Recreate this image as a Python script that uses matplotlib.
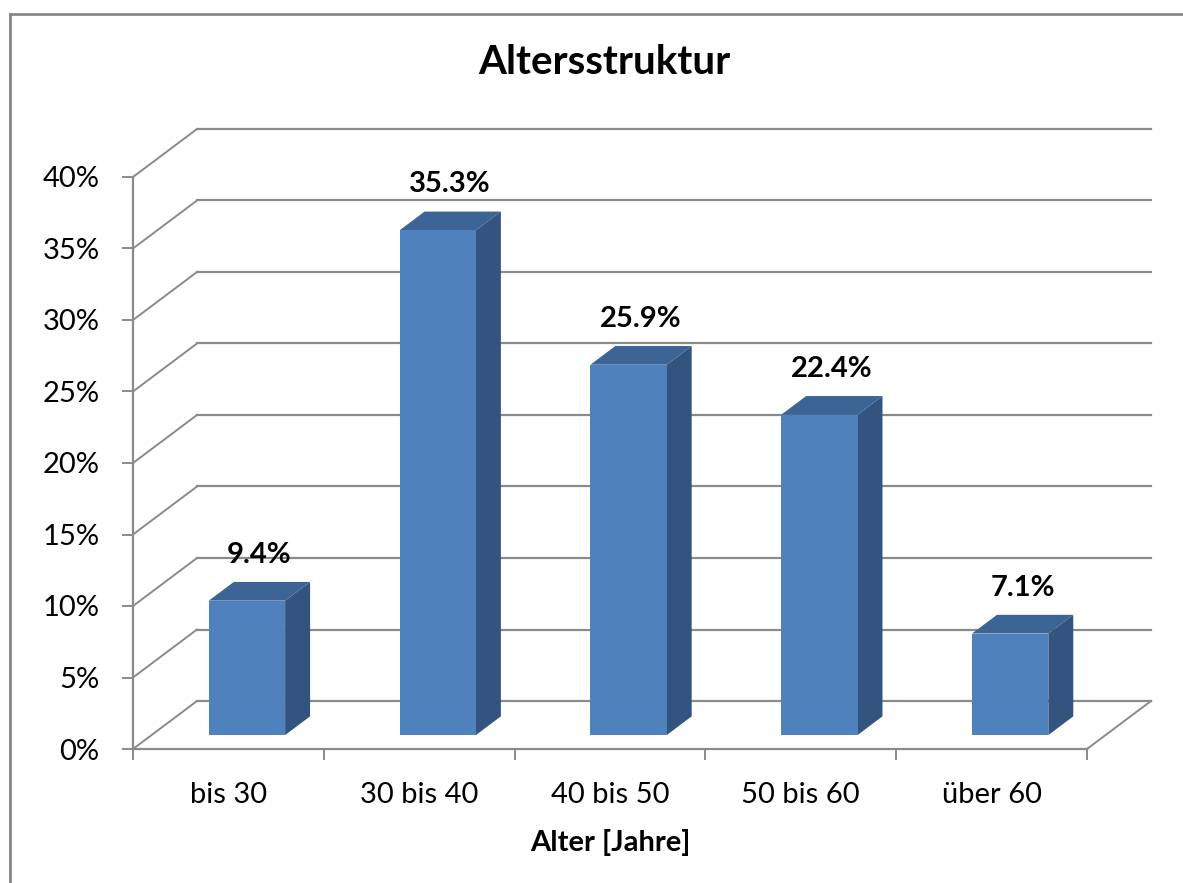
import matplotlib
matplotlib.use('Agg')
import matplotlib.pyplot as plt
from matplotlib.patches import Polygon
from matplotlib.lines import Line2D

# Daten
kategorien = ['bis 30', '30 bis 40', '40 bis 50', '50 bis 60', 'über 60']
anteile = [9.4, 35.3, 25.9, 22.4, 7.1]
y_ticks = [0, 5, 10, 15, 20, 25, 30, 35, 40]
y_labels = ['0%', '5%', '10%', '15%', '20%', '25%', '30%', '35%', '40%']
titel = 'Altersstruktur'
x_titel = 'Alter [Jahre]'

plt.rcParams['font.family'] = ['Lato', 'DejaVu Sans']

W, H = 1183, 883
fig = plt.figure(figsize=(W / 100, H / 100), dpi=100)

# Vorderebene der Achsen (Pixel)
left, right, top, bottom = 133, 1087, 177, 749
ax = fig.add_axes([left / W, 1 - bottom / H, (right - left) / W, (bottom - top) / H])
ax.set_xlim(0, len(kategorien))
ax.set_ylim(0, 40)
ax.patch.set_visible(False)

# Tiefe (Pixel) in Dateneinheiten umrechnen
DEPTH_PX = (64, 48)
DX = DEPTH_PX[0] / ((right - left) / len(kategorien))
DY = DEPTH_PX[1] / ((bottom - top) / 40)


def pt(x, y, f):
    return (x + f * DX, y + f * DY)


grid_col = '#8a8a8a'
n = len(kategorien)

# Rückwand-Gitterlinien und Seitenwand-Diagonalen
for yv in y_ticks:
    x0, y0 = pt(0, yv, 1)
    x1, y1 = pt(n, yv, 1)
    ax.add_line(Line2D([x0, x1], [y0, y1], color=grid_col, lw=1.6, clip_on=False, zorder=1))
    xa, ya = pt(0, yv, 0)
    ax.add_line(Line2D([xa, x0], [ya, y0], color=grid_col, lw=1.4, clip_on=False, zorder=1))

# Boden rechte Diagonale
xa, ya = pt(n, 0, 0)
xb, yb = pt(n, 0, 1)
ax.add_line(Line2D([xa, xb], [ya, yb], color=grid_col, lw=1.4, clip_on=False, zorder=1))

# Balken
f1, f2 = 0.29, 0.68
bw0, bw1 = 0.3, 0.7
c_front, c_top, c_side = '#4f81bd', '#3c6494', '#32547e'
for i, v in enumerate(anteile):
    xl, xr = i + bw0, i + bw1
    front = [pt(xl, 0, f1), pt(xr, 0, f1), pt(xr, v, f1), pt(xl, v, f1)]
    side = [pt(xr, 0, f1), pt(xr, 0, f2), pt(xr, v, f2), pt(xr, v, f1)]
    topf = [pt(xl, v, f1), pt(xr, v, f1), pt(xr, v, f2), pt(xl, v, f2)]
    ax.add_patch(Polygon(side, closed=True, fc=c_side, ec='none', clip_on=False, zorder=3))
    ax.add_patch(Polygon(topf, closed=True, fc=c_top, ec='none', clip_on=False, zorder=3))
    ax.add_patch(Polygon(front, closed=True, fc=c_front, ec='none', clip_on=False, zorder=4))
    lx, ly = pt(i + 0.5, v, (f1 + f2) / 2)
    ax.annotate(f'{v:.1f}%', xy=(lx, pt(0, v, f1)[1]), xytext=(0, 33), textcoords='offset points',
                ha='center', va='center', fontsize=21, fontweight='bold', color='black', zorder=5)

# Achsen
for s in ['top', 'right']:
    ax.spines[s].set_visible(False)
for s in ['left', 'bottom']:
    ax.spines[s].set_color(grid_col)
    ax.spines[s].set_linewidth(1.6)

ax.set_yticks(y_ticks)
ax.set_yticklabels(y_labels)
ax.tick_params(axis='y', length=8, width=1.4, color=grid_col, pad=16, labelsize=21)

ax.set_xticks(range(n + 1))
ax.set_xticklabels([])
ax.set_xticks([i + 0.5 for i in range(n)], minor=True)
ax.set_xticklabels(kategorien, minor=True)
ax.tick_params(axis='x', which='major', length=8, width=1.4, color=grid_col, direction='out')
ax.tick_params(axis='x', which='minor', length=0, pad=24, labelsize=21)

fig.text(610 / W, 1 - 843 / H, x_titel, ha='center', va='center', fontsize=21, fontweight='bold')
fig.text(604 / W, 1 - 62 / H, titel, ha='center', va='center', fontsize=29, fontweight='bold')

# Rahmen des Diagramms
fig.add_artist(Line2D([10 / W, 10 / W], [0, 1 - 14 / H], color='#878787', lw=2, transform=fig.transFigure))
fig.add_artist(Line2D([10 / W, 1], [1 - 14 / H, 1 - 14 / H], color='#878787', lw=2, transform=fig.transFigure))

fig.savefig('out.png', dpi=100)
